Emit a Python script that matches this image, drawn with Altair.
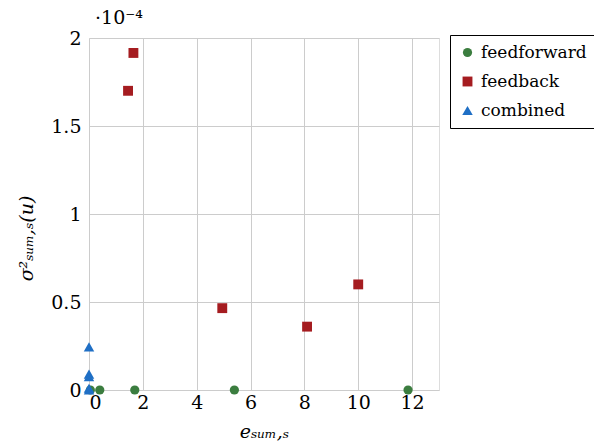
import altair as alt
import pandas as pd

# values in units of 1e-4 for y
ff_x = [0.05, 0.4, 1.7, 5.4, 11.85]
ff_y = [0.0, 0.0, 0.0, 0.0, 0.0]
fb_x = [1.45, 1.65, 4.95, 8.1, 10.0]
fb_y = [1.70, 1.915, 0.465, 0.36, 0.60]
cb_x = [0.0, 0.0, 0.0, 0.0, 0.0]
cb_y = [0.245, 0.09, 0.075, 0.01, 0.0]

series = ["feedforward", "feedback", "combined"]
colors = ["#3b7d3f", "#a51c20", "#1f6fc5"]
shapes = ["circle", "square", "triangle-up"]
sizes = [85, 110, 150]

rows = []
for name, xs, ys in [("feedforward", ff_x, ff_y), ("feedback", fb_x, fb_y), ("combined", cb_x, cb_y)]:
    for x, y in zip(xs, ys):
        rows.append({"x": x, "y": y, "series": name})
df = pd.DataFrame(rows)

FONT = "DejaVu Serif"

axis_common = dict(labelFont=FONT, labelFontSize=19, labelColor="black", titleColor="black",
                   grid=True, gridColor="#cccccc", gridWidth=1, ticks=False, domain=False,
                   titleFont=FONT, titleFontStyle="italic", titleFontSize=19,
                   titleFontWeight="normal")

points = alt.Chart(df).mark_point(filled=True, opacity=1).encode(
    x=alt.X("x:Q", scale=alt.Scale(domain=[0, 13], nice=False, zero=False),
            axis=alt.Axis(values=[0, 2, 4, 6, 8, 10, 12], title="eₛᵤₘ,ₛ",
                          labelPadding=3, titlePadding=10, **axis_common)),
    y=alt.Y("y:Q", scale=alt.Scale(domain=[0, 2], nice=False, zero=False),
            axis=alt.Axis(values=[0, 0.5, 1, 1.5, 2], title="σ²ₛᵤₘ,ₛ(u)", format="~g",
                          labelPadding=8, titlePadding=14, titleY=200, **axis_common)),
    color=alt.Color("series:N", scale=alt.Scale(domain=series, range=colors),
                    legend=alt.Legend(title=None, orient="none", legendX=361, legendY=-3,
                                      labelFont=FONT, labelFontSize=17, labelColor="black",
                                      strokeColor="black", padding=9, rowPadding=11,
                                      symbolSize=110, labelOffset=5)),
    shape=alt.Shape("series:N", scale=alt.Scale(domain=series, range=shapes)),
    size=alt.Size("series:N", scale=alt.Scale(domain=series, range=sizes), legend=None),
)

exp_label = alt.Chart(pd.DataFrame({"t": ["·10⁻⁴"]})).mark_text(
    font=FONT, fontSize=19, align="left", baseline="alphabetic", color="black"
).encode(x=alt.value(6), y=alt.value(-14), text="t:N")

chart = alt.layer(points, exp_label).properties(
    width=350, height=352,
    autosize=alt.AutoSizeParams(type="none"),
    padding={"left": 89, "top": 38, "right": 155, "bottom": 57},
).configure_view(stroke="black", strokeWidth=1.2).configure(background="white")

chart.save("out.html", embed_options={"renderer": "svg", "actions": False})
